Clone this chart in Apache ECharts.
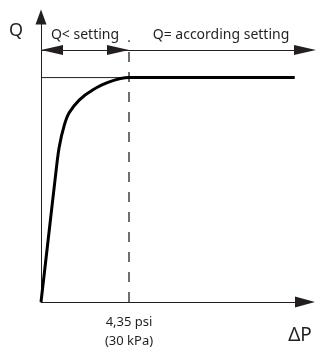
<!DOCTYPE html>
<html>
<head>
<meta charset="utf-8">
<script src="https://cdn.jsdelivr.net/npm/echarts@6/dist/echarts.min.js"></script>
<style>
  html, body { margin: 0; padding: 0; background: #fff; }
  #chart { width: 316px; height: 351px; }
</style>
</head>
<body>
<div id="chart"></div>
<script>
// flow curve: differential pressure (kPa) vs flow (% of setting)
var dp = [0, 2.5, 5.1, 6.2, 7.9, 9.6, 13.1, 17.6, 23.3, 30, 86.5];
var q = [0, 28.4, 58, 69, 78.6, 84.3, 90.1, 94.5, 98.1, 100, 100];
// setting point
var settingDp = 30;
var settingLabel = ['4,35 psi', '(30 kPa)'];
var regionLabels = ['Q< setting', 'Q= according setting'];
var axisNames = ['ΔP', 'Q'];

var ink = '#231f20';
var font = 'Noto Sans';
var xMax = 90, yMax = 127;
var arrowY = 112.3, dashTop = 116.6;
var head = [10, 22];

var myChart = echarts.init(document.getElementById('chart'));

var curve = [];
for (var i = 0; i < dp.length; i++) {
    curve.push([dp[i], q[i]]);
}

var option = {
    animation: false,
    textStyle: { fontFamily: font, color: ink },
    grid: { left: 41, right: 11, top: 17, bottom: 43 },
    xAxis: {
        type: 'value',
        min: 0,
        max: xMax,
        axisLine: {
            lineStyle: { color: ink, width: 1 },
            symbol: ['none', 'triangle'],
            symbolSize: [11, 20]
        },
        axisTick: { show: false },
        splitLine: { show: false },
        axisLabel: {
            customValues: [settingDp],
            formatter: function () { return settingLabel.join('\n'); },
            fontSize: 13,
            lineHeight: 19,
            margin: 11,
            color: ink,
            fontFamily: font
        }
    },
    yAxis: {
        type: 'value',
        min: 0,
        max: yMax,
        axisLine: {
            lineStyle: { color: ink, width: 1 },
            symbol: ['none', 'triangle'],
            symbolSize: [11, 15]
        },
        axisTick: { show: false },
        splitLine: { show: false },
        axisLabel: { show: false }
    },
    graphic: [
        { type: 'text', x: 16, y: 31, style: { text: axisNames[1], fontSize: 18, fontFamily: font, fill: ink, align: 'center', verticalAlign: 'middle' } },
        { type: 'text', x: 300, y: 336, style: { text: axisNames[0], fontSize: 19, fontFamily: font, fill: ink, align: 'center', verticalAlign: 'middle' } }
    ],
    series: [
        {
            // thin reference line up to the setting
            type: 'line',
            data: [[0, 100], [settingDp, 100]],
            symbol: 'none',
            lineStyle: { color: ink, width: 1 },
            silent: true
        },
        {
            // dashed setting line
            type: 'line',
            data: [[settingDp, 0], [settingDp, dashTop]],
            symbol: 'none',
            lineStyle: { color: ink, width: 1.3, type: [10, 10] },
            silent: true
        },
        {
            type: 'line',
            data: curve,
            symbol: 'none',
            smooth: 0.35,
            lineStyle: { color: '#000', width: 3 },
            markLine: {
                silent: true,
                symbol: ['triangle', 'triangle'],
                symbolSize: [head, head],
                lineStyle: { color: ink, width: 1, type: 'solid' },
                label: {
                    show: true,
                    position: 'middle',
                    distance: 8,
                    fontSize: 14,
                    fontFamily: font,
                    color: ink
                },
                data: [
                    [
                        { coord: [0, arrowY], symbolSize: head, symbolOffset: [0, 11], name: regionLabels[0] },
                        { coord: [settingDp, arrowY], symbolSize: head, symbolOffset: [0, 11] }
                    ],
                    [
                        { coord: [settingDp, arrowY], symbol: 'none', name: regionLabels[1], label: { offset: [4, 0] } },
                        { coord: [xMax, arrowY], symbolSize: head }
                    ]
                ]
            }
        }
    ]
};
myChart.setOption(option);
</script>
</body>
</html>
